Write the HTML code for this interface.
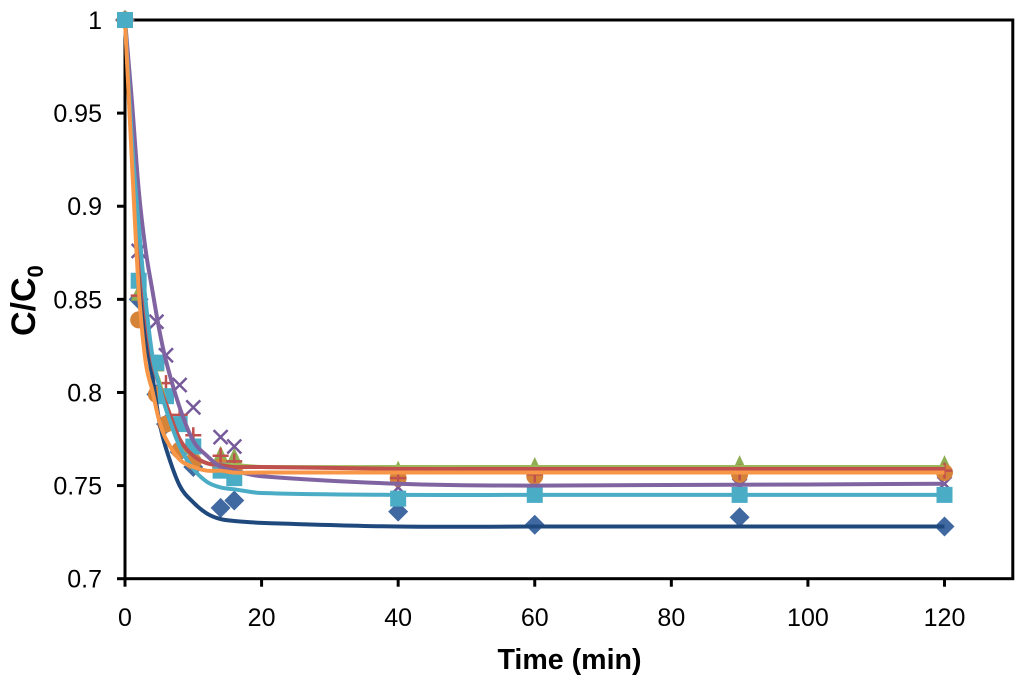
<!DOCTYPE html>
<html lang="en">
<head>
<meta charset="utf-8">
<title>C/C0 versus time</title>
<style>
html,body{margin:0;padding:0;background:#fff;width:1024px;height:684px;overflow:hidden}
svg{display:block;font-family:"Liberation Sans",Arial,sans-serif}
</style>
</head>
<body>
<svg id="chart" xmlns="http://www.w3.org/2000/svg" width="1024" height="684" viewBox="0 0 1024 684">
<rect x="0" y="0" width="1024" height="684" fill="#ffffff"/>
<g id="ticks"></g>
<rect id="frame" fill="none" stroke="#000000" stroke-width="3"/>
<g id="markers"></g>
<g id="lines"></g>
<g id="start-marker"></g>
<g id="labels"></g>
<text x="569.5" y="669" text-anchor="middle" font-size="28.6" font-weight="700" fill="#000">Time (min)</text>
<text transform="translate(35,336) rotate(-90)" font-size="34" font-weight="700" fill="#000">C/C<tspan font-size="22" dy="8">0</tspan></text>
</svg>
<script>
// Axis ticks
const xTicks = [0, 20, 40, 60, 80, 100, 120];
const yTicks = [0.7, 0.75, 0.8, 0.85, 0.9, 0.95, 1];
const yTickText = ['0.7', '0.75', '0.8', '0.85', '0.9', '0.95', '1'];

// Measured points: sampling times and C/C0 per series
const times = [0, 2, 4.6, 6, 8, 10, 14, 16, 40, 60, 90, 120];
const diamondValues = [1, 0.850, 0.799, 0.783, 0.768, 0.760, 0.738, 0.742, 0.736, 0.729, 0.733, 0.728];
const triangleValues = [1, 0.853, 0.815, 0.798, 0.783, 0.772, 0.766, 0.765, 0.758, 0.760, 0.761, 0.761];
const crossValues = [1, 0.876, 0.838, 0.820, 0.804, 0.792, 0.776, 0.771, 0.749, 0.750, 0.750, 0.751];
const circleValues = [1, 0.839, 0.799, 0.783, 0.769, 0.763, 0.760, 0.758, 0.754, 0.755, 0.756, 0.757];
const plusValues = [1, 0.852, 0.816, 0.805, 0.788, 0.777, 0.766, 0.763, 0.754, 0.756, 0.757, 0.758];
const squareValues = [1, 0.860, 0.816, 0.798, 0.783, 0.771, 0.758, 0.754, 0.743, 0.745, 0.745, 0.745];

// Fitted curves: shared times and C/C0 per curve
const curveTimes = [0, 1, 2, 3, 4, 5, 6, 8, 10, 12, 14, 16, 20, 40, 60, 120];
const blueCurve = [1, 0.933, 0.870, 0.831, 0.809, 0.785, 0.770, 0.750, 0.741, 0.735, 0.732, 0.731, 0.730, 0.728, 0.728, 0.728];
const tealCurve = [1, 0.936, 0.890, 0.850, 0.820, 0.804, 0.791, 0.771, 0.759, 0.752, 0.749, 0.748, 0.746, 0.745, 0.745, 0.745];
const greenCurve = [1, 0.936, 0.885, 0.847, 0.818, 0.806, 0.794, 0.774, 0.766, 0.762, 0.761, 0.761, 0.760, 0.760, 0.760, 0.760];
const redCurve = [1, 0.941, 0.885, 0.844, 0.817, 0.804, 0.794, 0.775, 0.766, 0.762, 0.761, 0.760, 0.760, 0.759, 0.759, 0.759];
const purpleCurve = [1, 0.957, 0.909, 0.877, 0.855, 0.834, 0.817, 0.792, 0.774, 0.766, 0.760, 0.758, 0.755, 0.751, 0.750, 0.751];
const orangeCurve = [1, 0.925, 0.856, 0.817, 0.801, 0.785, 0.775, 0.764, 0.760, 0.758, 0.758, 0.757, 0.757, 0.757, 0.757, 0.757];

const NS = 'http://www.w3.org/2000/svg';
const xScale = t => 125 + (t / 120) * 819.5;
const yScale = v => 578.7 - ((v - 0.7) / 0.3) * 558.7;

function make(tag, parent, attrs) {
  const el = document.createElementNS(NS, tag);
  Object.keys(attrs).forEach(k => el.setAttribute(k, attrs[k]));
  parent.appendChild(el);
  return el;
}

const frame = document.getElementById('frame');
frame.setAttribute('x', xScale(0));
frame.setAttribute('y', yScale(1));
frame.setAttribute('width', xScale(130) - xScale(0));
frame.setAttribute('height', yScale(0.7) - yScale(1));

const tickGroup = document.getElementById('ticks');
const labelGroup = document.getElementById('labels');

xTicks.forEach(t => {
  const tick = make('line', tickGroup, {x1: xScale(t), x2: xScale(t), y1: yScale(0.7), y2: yScale(0.7) + 8, stroke: '#000', 'stroke-width': 3});
  
  
  const label = make('text', labelGroup, {x: xScale(t), y: 626, 'text-anchor': 'middle', 'font-size': 25, fill: '#000'});
  
  
  label.textContent = String(t);
});

yTicks.forEach((v, i) => {
  const tick = make('line', tickGroup, {x1: xScale(0) - 8, x2: xScale(0), y1: yScale(v), y2: yScale(v), stroke: '#000', 'stroke-width': 3});
  
  
  const label = make('text', labelGroup, {x: 102, y: yScale(v) + 9, 'text-anchor': 'end', 'font-size': 25, fill: '#000'});
  
  
  label.textContent = yTickText[i];
});

const markerGroup = document.getElementById('markers');

function drawDiamond(g, x, y) {
  make('polygon', g, {points: [x, y - 10, x + 10, y, x, y + 10, x - 10, y].join(' '), fill: '#4069a1'});
}
function drawTriangle(g, x, y) {
  make('polygon', g, {points: [x, y - 10, x + 8, y + 7, x - 8, y + 7].join(' '), fill: '#8fae53'});
}
function drawCross(g, x, y) {
  make('path', g, {d: 'M' + (x - 7) + ' ' + (y - 7) + 'L' + (x + 7) + ' ' + (y + 7) + 'M' + (x + 7) + ' ' + (y - 7) + 'L' + (x - 7) + ' ' + (y + 7), stroke: '#75599a', 'stroke-width': 2.5, fill: 'none'});
}
function drawCircle(g, x, y) {
  make('circle', g, {cx: x, cy: y, r: 8.5, fill: '#d6833a'});
}
function drawPlus(g, x, y) {
  make('path', g, {d: 'M' + (x - 8) + ' ' + y + 'L' + (x + 8) + ' ' + y + 'M' + x + ' ' + (y - 8) + 'L' + x + ' ' + (y + 8), stroke: '#c0504d', 'stroke-width': 2.5, fill: 'none'});
}
function drawSquare(g, x, y) {
  make('rect', g, {x: x - 8, y: y - 8, width: 16, height: 16, fill: '#4bacc6'});
}

function drawSeries(name, values, shape) {
  const group = make('g', markerGroup, {});
  
  
  values.forEach((v, i) => shape(group, xScale(times[i]), yScale(v)));
}

drawSeries('diamond-series', diamondValues, drawDiamond);
drawSeries('triangle-series', triangleValues, drawTriangle);
drawSeries('cross-series', crossValues, drawCross);
drawSeries('circle-series', circleValues, drawCircle);
drawSeries('plus-series', plusValues, drawPlus);
drawSeries('square-series', squareValues, drawSquare);

const lineGroup = document.getElementById('lines');

function smoothPath(values) {
  const pts = values.map((v, i) => [xScale(curveTimes[i]), yScale(v)]);
  let d = 'M' + pts[0][0] + ' ' + pts[0][1];
  for (let i = 0; i < pts.length - 1; i++) {
    const p0 = pts[Math.max(i - 1, 0)];
    const p1 = pts[i];
    const p2 = pts[i + 1];
    const p3 = pts[Math.min(i + 2, pts.length - 1)];
    const h = p2[0] - p1[0];
    const m1 = (p2[1] - p0[1]) / (p2[0] - p0[0]);
    const m2 = (p3[1] - p1[1]) / (p3[0] - p1[0]);
    d += 'C' + (p1[0] + h / 3) + ' ' + (p1[1] + m1 * h / 3) + ' ' + (p2[0] - h / 3) + ' ' + (p2[1] - m2 * h / 3) + ' ' + p2[0] + ' ' + p2[1];
  }
  return d;
}

function drawCurve(name, values, color) {
  const path = make('path', lineGroup, {d: smoothPath(values), fill: 'none', stroke: color, 'stroke-width': 4, 'stroke-linejoin': 'round'});
  
  
}

drawCurve('fit-curve-blue', blueCurve, '#1f497d');
drawCurve('fit-curve-green', greenCurve, '#9bbb59');
drawCurve('fit-curve-red', redCurve, '#c0504d');
drawCurve('fit-curve-purple', purpleCurve, '#8064a2');
drawCurve('fit-curve-teal', tealCurve, '#4bacc6');
drawCurve('fit-curve-orange', orangeCurve, '#f79646');

// The first square sits above the curves where they all converge
drawSquare(document.getElementById('start-marker'), xScale(times[0]), yScale(squareValues[0]));
</script>
</body>
</html>
